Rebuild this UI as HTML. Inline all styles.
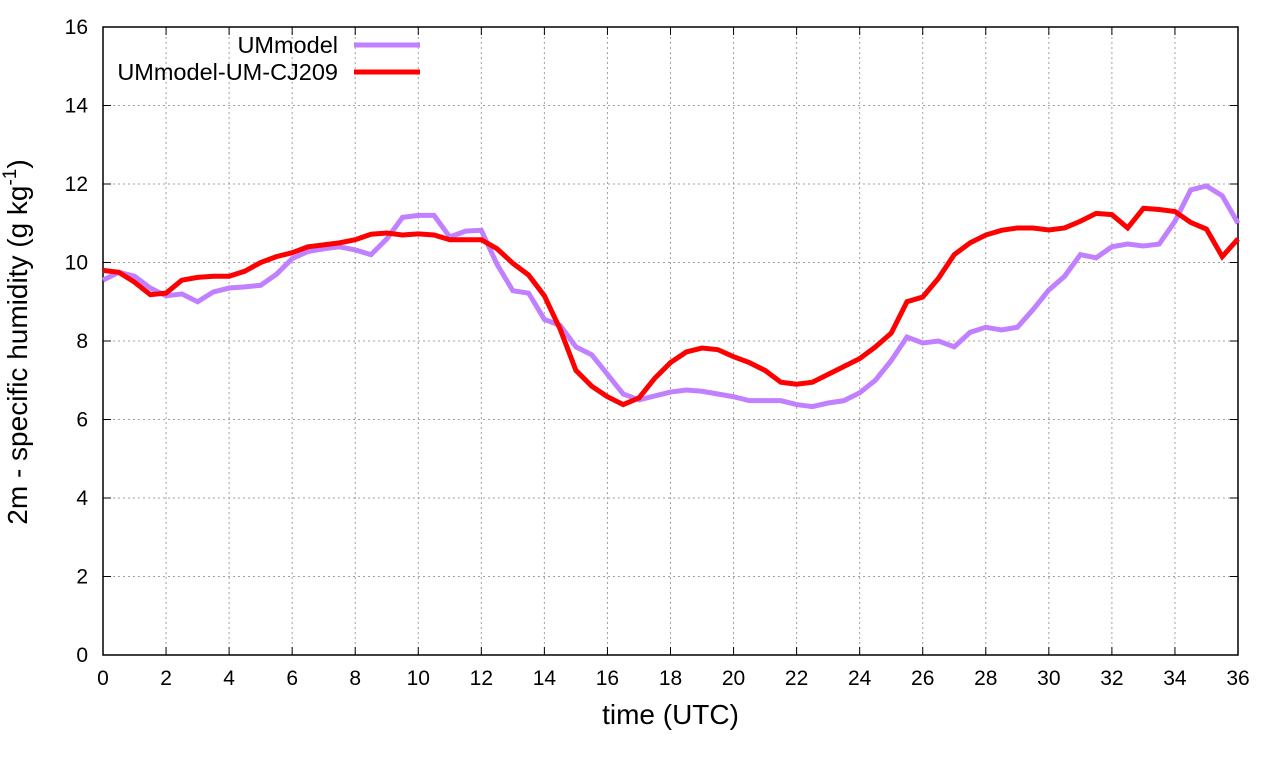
<!DOCTYPE html>
<html><head><meta charset="utf-8"><style>body{margin:0;background:#fff}svg{display:block;font-family:"Liberation Sans",sans-serif}</style></head>
<body>
<svg id="c" width="1280" height="760"></svg>
<script>
const times=[];for(let i=0;i<=72;i++)times.push(i*0.5);
const umModel=[9.55,9.75,9.65,9.35,9.15,9.2,9.0,9.25,9.35,9.38,9.42,9.7,10.1,10.28,10.35,10.4,10.32,10.2,10.6,11.15,11.2,11.2,10.65,10.8,10.82,9.95,9.28,9.22,8.55,8.4,7.85,7.65,7.15,6.65,6.5,6.6,6.7,6.75,6.72,6.65,6.58,6.48,6.48,6.48,6.38,6.33,6.42,6.48,6.68,7.0,7.5,8.1,7.95,8.0,7.85,8.22,8.35,8.28,8.35,8.8,9.3,9.65,10.2,10.12,10.4,10.47,10.42,10.47,11.05,11.85,11.95,11.7,11.0];
const umCJ209=[9.8,9.75,9.5,9.18,9.22,9.55,9.62,9.65,9.65,9.78,10.0,10.15,10.25,10.4,10.45,10.5,10.58,10.72,10.75,10.7,10.73,10.7,10.58,10.58,10.58,10.35,9.98,9.68,9.15,8.3,7.25,6.85,6.58,6.38,6.55,7.05,7.45,7.72,7.82,7.78,7.6,7.45,7.25,6.95,6.9,6.95,7.15,7.35,7.55,7.85,8.2,9.0,9.12,9.6,10.2,10.5,10.7,10.82,10.88,10.88,10.83,10.88,11.05,11.25,11.22,10.88,11.38,11.35,11.3,11.02,10.85,10.15,10.6];
const xTicks=[0,2,4,6,8,10,12,14,16,18,20,22,24,26,28,30,32,34,36];
const yTicks=[0,2,4,6,8,10,12,14,16];
const L=103,R=1238,T=27,B=655;
const X=v=>L+(v-0)/36*(R-L), Y=v=>B-v/16*(B-T);
const s=document.getElementById('c');const NS='http://www.w3.org/2000/svg';
function mk(t,a,txt){const e=document.createElementNS(NS,t);for(const k in a)e.setAttribute(k,a[k]);if(txt!=null)e.textContent=txt;s.appendChild(e);return e;}
xTicks.forEach(v=>{
 const g=mk('line',{x1:X(v),x2:X(v),y1:T,y2:B,stroke:'#a0a0a0','stroke-dasharray':'2,3'});
 
 
 mk('line',{x1:X(v),x2:X(v),y1:B,y2:B-8,stroke:'#000'});mk('line',{x1:X(v),x2:X(v),y1:T,y2:T+8,stroke:'#000'});
 const t=mk('text',{x:X(v),y:B+30,'text-anchor':'middle','font-size':21},v);
 
 
});
yTicks.forEach(v=>{
 const g=mk('line',{x1:L,x2:R,y1:Y(v),y2:Y(v),stroke:'#a0a0a0','stroke-dasharray':'2,3'});
 
 
 mk('line',{x1:L,x2:L+8,y1:Y(v),y2:Y(v),stroke:'#000'});mk('line',{x1:R,x2:R-8,y1:Y(v),y2:Y(v),stroke:'#000'});
 const t=mk('text',{x:L-15,y:Y(v)+7,'text-anchor':'end','font-size':21},v);
 
 
});
const f=mk('rect',{x:L,y:T,width:R-L,height:B-T,fill:'none',stroke:'#000','stroke-width':1.5});


function line(arr,col,name){const p=mk('polyline',{points:arr.map((v,i)=>X(times[i])+','+Y(v)).join(' '),fill:'none',stroke:col,'stroke-width':5,'stroke-linejoin':'miter'});
 
 }
line(umModel,'#c080ff','series-ummodel');
line(umCJ209,'#ff0000','series-ummodel-um-cj209');
[['UMmodel','#c080ff',45],['UMmodel-UM-CJ209','#ff0000',72]].forEach(([n,c,y])=>{
 const t=mk('text',{x:338,y:y+8,'text-anchor':'end','font-size':23.5},n);
 
 
 const l=mk('line',{x1:354,x2:420,y1:y,y2:y,stroke:c,'stroke-width':5});
 
 
});
const xt=mk('text',{x:(L+R)/2+0,y:724,'text-anchor':'middle','font-size':28},'time (UTC)');


const yt=mk('text',{x:0,y:0,'text-anchor':'middle','font-size':28,transform:'translate(27,342) rotate(-90)'});
yt.innerHTML='2m - specific humidity (g kg<tspan dy="-11" font-size="19">-1</tspan><tspan dy="11">)</tspan>';


</script>
</body></html>
